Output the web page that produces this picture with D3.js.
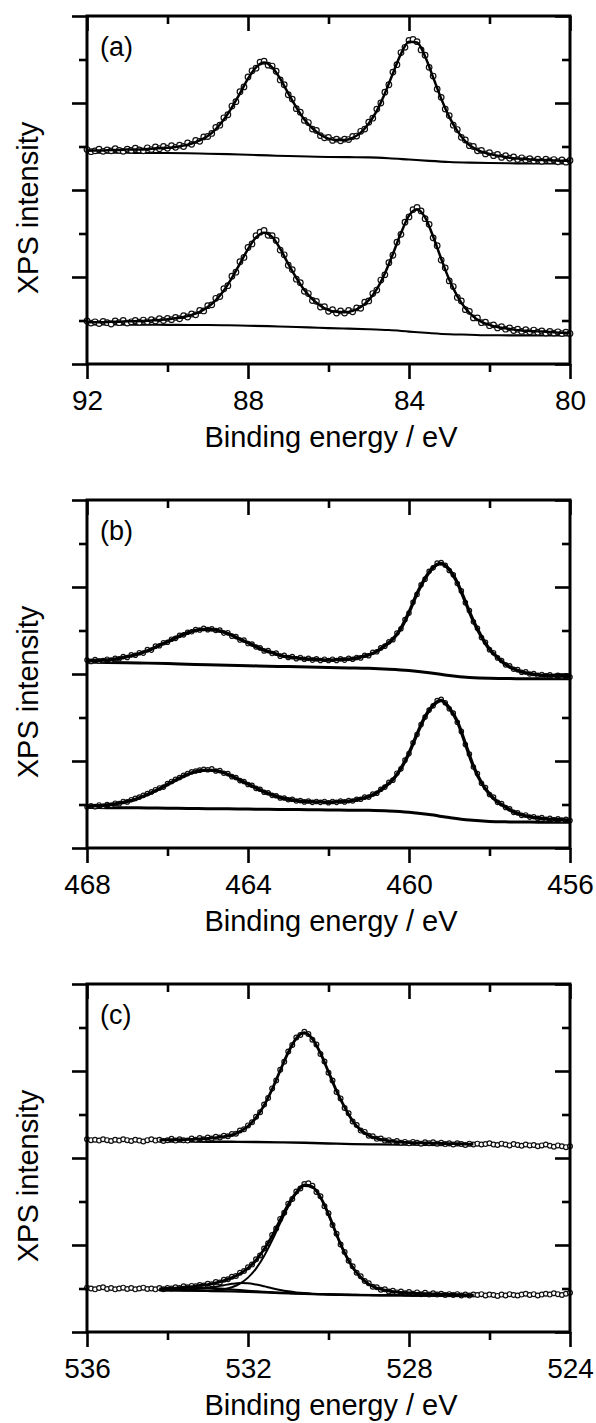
<!DOCTYPE html>
<html><head><meta charset="utf-8">
<script src="https://cdn.jsdelivr.net/npm/d3@7"></script>
<style>
body{margin:0;background:#fff}
svg text{font-family:"Liberation Sans",Arial,Helvetica,sans-serif;fill:#000}
</style>
</head><body>
<svg id="chart" width="596" height="1423"></svg>
<script>
// ---------------- Panel (a): 92 -> 80 eV ----------------
const aTicks = [92, 90, 88, 86, 84, 82, 80];
const aTickLabels = [92, 88, 84, 80];
const aDataStart = 92, aFitStart = 92, aBgStart = 92;
const aUpperData = [4.93,4.88,4.90,4.94,4.89,4.92,4.90,4.95,4.91,4.89,
4.94,4.91,4.96,4.92,4.90,4.97,4.93,4.99,4.95,5.00,
4.96,5.02,4.98,5.03,5.00,5.08,5.05,5.14,5.12,5.22,
5.23,5.30,5.44,5.49,5.66,5.73,5.93,6.03,6.26,6.37,
6.60,6.74,6.80,6.94,6.96,6.87,6.85,6.73,6.53,6.42,
6.19,6.09,5.87,5.79,5.60,5.55,5.40,5.37,5.25,5.20,
5.21,5.14,5.17,5.13,5.17,5.16,5.23,5.24,5.35,5.40,
5.56,5.65,5.86,6.00,6.25,6.42,6.71,6.88,7.16,7.28,
7.44,7.46,7.41,7.22,7.10,6.82,6.62,6.32,6.13,5.86,
5.71,5.49,5.39,5.21,5.15,5.02,5.00,4.90,4.91,4.83,
4.86,4.79,4.82,4.75,4.79,4.73,4.76,4.70,4.74,4.69,
4.72,4.67,4.71,4.66,4.71,4.67,4.70,4.65,4.69,4.64,
4.68];
const aUpperFit = [4.90,4.91,4.91,4.92,4.92,4.93,4.93,4.93,4.95,4.96,
4.97,4.99,5.02,5.07,5.14,5.24,5.40,5.62,5.90,6.22,
6.56,6.82,6.93,6.82,6.56,6.22,5.90,5.62,5.42,5.27,
5.18,5.15,5.15,5.20,5.32,5.53,5.82,6.22,6.68,7.13,
7.41,7.39,7.07,6.59,6.10,5.68,5.36,5.12,4.97,4.88,
4.83,4.79,4.76,4.73,4.72,4.70,4.69,4.69,4.68,4.67,
4.67];
const aUpperBg = [4.86,4.86,4.855,4.85,4.85,4.845,4.835,4.825,4.81,4.795,4.78,4.77,4.76,4.755,4.75,4.73,4.70,4.67,4.645,4.63,4.62,4.615,4.61,4.61,4.61];
const aLowerData = [0.99,0.94,0.97,0.93,0.98,0.95,0.92,0.99,0.95,1.00,
0.94,0.97,1.00,0.96,1.01,0.97,1.02,0.99,1.04,1.00,
1.05,1.02,1.07,1.04,1.11,1.08,1.15,1.13,1.23,1.22,
1.34,1.36,1.51,1.55,1.73,1.80,2.02,2.11,2.35,2.45,
2.68,2.76,2.95,3.03,3.07,2.96,2.95,2.84,2.62,2.51,
2.27,2.17,1.95,1.87,1.67,1.62,1.46,1.44,1.31,1.32,
1.21,1.25,1.17,1.22,1.17,1.23,1.20,1.29,1.28,1.42,
1.45,1.62,1.70,1.93,2.05,2.33,2.50,2.80,2.98,3.26,
3.38,3.55,3.60,3.52,3.34,3.21,2.90,2.72,2.39,2.21,
1.91,1.78,1.53,1.45,1.25,1.21,1.06,1.06,0.95,0.96,
0.88,0.90,0.83,0.86,0.80,0.83,0.77,0.80,0.75,0.79,
0.74,0.78,0.73,0.76,0.71,0.75,0.71,0.74,0.70,0.73,
0.70];
const aLowerFit = [0.96,0.96,0.96,0.97,0.97,0.98,0.98,0.99,1.00,1.01,
1.03,1.05,1.08,1.13,1.20,1.31,1.47,1.69,1.98,2.31,
2.64,2.91,3.02,2.92,2.65,2.30,1.98,1.70,1.49,1.34,
1.24,1.20,1.19,1.22,1.31,1.47,1.72,2.08,2.53,3.01,
3.41,3.56,3.37,2.93,2.42,1.94,1.56,1.28,1.09,0.97,
0.90,0.85,0.82,0.79,0.77,0.76,0.75,0.74,0.73,0.72,
0.72];
const aLowerBg = [0.91,0.909,0.905,0.903,0.90,0.898,0.895,0.89,0.88,0.87,0.855,0.843,0.825,0.813,0.80,0.78,0.745,0.712,0.685,0.673,0.66,0.659,0.657,0.656,0.655];

// ---------------- Panel (b): 468 -> 456 eV ----------------
const bTicks = [468, 466, 464, 462, 460, 458, 456];
const bTickLabels = [468, 464, 460, 456];
const bDataStart = 468, bFitStart = 468, bBgStart = 468;
const bUpperData = [4.32,4.29,4.33,4.30,4.31,4.34,4.32,4.36,4.35,4.40,
4.38,4.44,4.43,4.49,4.48,4.56,4.55,4.64,4.65,4.72,
4.73,4.80,4.82,4.89,4.90,4.96,4.97,5.02,5.01,5.05,
5.02,5.04,5.00,5.01,4.94,4.95,4.87,4.86,4.78,4.78,
4.70,4.69,4.62,4.60,4.53,4.54,4.47,4.48,4.41,4.43,
4.38,4.40,4.35,4.38,4.34,4.36,4.32,4.35,4.31,4.34,
4.31,4.34,4.31,4.35,4.32,4.36,4.34,4.38,4.37,4.43,
4.42,4.50,4.51,4.60,4.64,4.74,4.79,4.94,5.04,5.25,
5.40,5.65,5.83,6.05,6.18,6.36,6.44,6.55,6.56,6.50,
6.38,6.28,6.08,5.91,5.64,5.46,5.20,5.05,4.84,4.73,
4.56,4.49,4.37,4.31,4.21,4.19,4.11,4.10,4.04,4.05,
4.00,4.01,3.97,3.99,3.96,3.98,3.95,3.97,3.94,3.96,
3.93];
const bUpperFit = [4.30,4.31,4.32,4.33,4.36,4.40,4.44,4.50,4.57,4.66,
4.74,4.83,4.91,4.98,5.02,5.03,5.01,4.96,4.89,4.80,
4.72,4.63,4.55,4.49,4.43,4.39,4.37,4.35,4.34,4.33,
4.32,4.33,4.34,4.35,4.39,4.44,4.52,4.65,4.80,5.05,
5.42,5.85,6.20,6.45,6.54,6.40,6.10,5.66,5.22,4.86,
4.57,4.38,4.22,4.12,4.05,4.01,3.98,3.97,3.96,3.95,
3.94];
const bUpperBg = [4.27,4.265,4.26,4.25,4.24,4.225,4.21,4.20,4.19,4.18,4.17,4.16,4.15,4.14,4.13,4.11,4.08,4.03,3.965,3.92,3.90,3.895,3.89,3.89,3.89];
const bLowerData = [0.94,0.97,0.95,0.99,0.96,1.00,0.98,1.03,1.02,1.07,
1.06,1.11,1.14,1.17,1.21,1.25,1.29,1.34,1.38,1.40,
1.48,1.53,1.58,1.62,1.67,1.71,1.75,1.77,1.79,1.81,
1.80,1.82,1.77,1.78,1.72,1.71,1.64,1.62,1.55,1.53,
1.46,1.44,1.37,1.35,1.28,1.27,1.21,1.20,1.15,1.15,
1.11,1.12,1.08,1.09,1.06,1.08,1.05,1.07,1.05,1.07,
1.04,1.07,1.05,1.08,1.06,1.09,1.08,1.12,1.12,1.17,
1.17,1.24,1.26,1.35,1.40,1.51,1.56,1.72,1.82,2.02,
2.17,2.42,2.61,2.84,3.01,3.17,3.27,3.39,3.42,3.34,
3.20,3.10,2.89,2.68,2.38,2.16,1.86,1.71,1.49,1.39,
1.23,1.17,1.05,1.02,0.93,0.90,0.82,0.81,0.75,0.76,
0.71,0.72,0.68,0.70,0.66,0.68,0.65,0.67,0.64,0.66,
0.63];
const bLowerFit = [0.96,0.97,0.98,1.00,1.03,1.07,1.12,1.19,1.27,1.36,
1.46,1.56,1.65,1.73,1.78,1.79,1.78,1.73,1.65,1.56,
1.47,1.38,1.29,1.22,1.16,1.12,1.09,1.07,1.06,1.06,
1.05,1.06,1.07,1.09,1.13,1.18,1.27,1.41,1.57,1.83,
2.18,2.62,3.02,3.28,3.39,3.22,2.91,2.40,1.88,1.50,
1.24,1.06,0.94,0.83,0.76,0.72,0.69,0.67,0.66,0.65,
0.64];
const bLowerBg = [0.93,0.928,0.925,0.92,0.915,0.91,0.905,0.90,0.895,0.89,0.885,0.88,0.875,0.87,0.865,0.85,0.82,0.768,0.70,0.643,0.61,0.60,0.595,0.592,0.59];

// ---------------- Panel (c): 536 -> 524 eV ----------------
const cTicks = [536, 534, 532, 530, 528, 526, 524];
const cTickLabels = [536, 532, 528, 524];
const cDataStart = 536, cFitStart = 534.2, cBgStart = 534.2;
const cUpperData = [4.43,4.41,4.42,4.40,4.43,4.41,4.39,4.42,4.40,4.43,
4.41,4.39,4.42,4.40,4.38,4.41,4.43,4.40,4.42,4.39,
4.41,4.44,4.40,4.43,4.41,4.40,4.45,4.42,4.46,4.43,
4.47,4.45,4.49,4.47,4.51,4.50,4.55,4.56,4.63,4.66,
4.75,4.82,4.95,5.05,5.23,5.38,5.60,5.78,6.03,6.21,
6.45,6.60,6.77,6.83,6.90,6.85,6.72,6.61,6.39,6.22,
5.96,5.78,5.52,5.37,5.15,5.03,4.84,4.76,4.63,4.60,
4.51,4.50,4.44,4.45,4.40,4.41,4.37,4.39,4.35,4.37,
4.34,4.37,4.35,4.33,4.36,4.34,4.36,4.33,4.35,4.32,
4.34,4.31,4.34,4.32,4.30,4.33,4.31,4.33,4.31,4.32,
4.34,4.31,4.30,4.33,4.31,4.29,4.32,4.30,4.28,4.31,
4.29,4.30,4.27,4.29,4.31,4.28,4.26,4.29,4.27,4.25,
4.27];
const cUpperFit = [4.41,4.42,4.42,4.42,4.43,4.44,4.45,4.47,4.49,4.53,
4.61,4.73,4.93,5.21,5.58,6.01,6.43,6.75,6.88,6.74,
6.41,5.98,5.54,5.17,4.85,4.64,4.52,4.45,4.41,4.38,
4.365,4.355,4.35,4.345,4.34,4.335,4.33,4.33,4.32,4.32];
const cUpperBg = [4.38,4.377,4.375,4.372,4.368,4.36,4.35,4.335,4.32,4.313,4.308,4.305,4.299,4.29];
const cLowerData = [1.02,1.00,0.98,1.01,1.03,0.99,1.01,0.98,1.00,1.02,
0.99,1.01,0.98,1.00,1.02,0.99,1.00,0.98,1.01,0.98,
1.01,1.00,1.03,1.01,1.05,1.03,1.06,1.05,1.08,1.07,
1.11,1.10,1.15,1.14,1.20,1.21,1.27,1.29,1.36,1.40,
1.49,1.55,1.67,1.76,1.92,2.04,2.23,2.38,2.60,2.74,
2.95,3.06,3.23,3.30,3.40,3.42,3.36,3.22,3.12,2.89,
2.73,2.46,2.26,2.01,1.84,1.64,1.51,1.36,1.28,1.17,
1.12,1.04,1.03,0.97,0.98,0.93,0.95,0.91,0.93,0.89,
0.92,0.88,0.91,0.87,0.90,0.86,0.89,0.86,0.88,0.85,
0.87,0.85,0.87,0.84,0.86,0.84,0.86,0.85,0.87,0.84,
0.86,0.85,0.83,0.86,0.84,0.87,0.85,0.84,0.86,0.88,
0.85,0.87,0.84,0.86,0.88,0.86,0.89,0.87,0.85,0.88,
0.90];
const cLowerFit = [0.99,1.00,1.01,1.03,1.04,1.07,1.09,1.13,1.18,1.25,
1.34,1.47,1.65,1.90,2.21,2.58,2.93,3.21,3.38,3.34,
3.10,2.71,2.24,1.82,1.49,1.26,1.10,1.01,0.96,0.93,
0.91,0.90,0.89,0.88,0.875,0.87,0.865,0.86,0.855,0.85];
const cLowerMain = [0.962,0.96,0.958,0.956,0.953,0.951,0.954,0.963,0.984,1.029,
1.112,1.25,1.458,1.747,2.105,2.503,2.881,3.184,3.355,3.326,
3.09,2.70,2.235,1.816,1.486,1.257,1.097,1.008,0.958,0.928,
0.908,0.898,0.888,0.878,0.873,0.868,0.863,0.858,0.853,0.848];
const cLowerComp2 = [0.966,0.966,0.967,0.971,0.978,0.992,1.013,1.042,1.076,1.107,
1.126,1.121,1.091,1.05,1.005,0.966,0.935,0.911,0.894,0.882,
0.874,0.867,0.862,0.858,0.855,0.852,0.85,0.848,0.846,0.844,
0.843,0.842,0.841,0.84,0.839,0.838,0.837,0.836,0.834,0.832];
const cLowerComp3 = [0.986,0.993,1.001,1.01,1.015,1.018,1.015,1.006,0.994,0.979,
0.964,0.95,0.936,0.925,0.914,0.904,0.895,0.887,0.88,0.873,
0.868,0.863,0.858,0.855,0.852,0.85,0.848,0.846,0.844,0.843,
0.842,0.841,0.840,0.839,0.838,0.837,0.836,0.835,0.833,0.831];
const cLowerBg = [0.96,0.954,0.945,0.934,0.918,0.898,0.877,0.861,0.851,0.845,0.841,0.838,0.835,0.83];

const yTicks = [0, 1, 2, 3, 4, 5, 6, 7, 8];
const xTitle = "Binding energy / eV";
const yTitle = "XPS intensity";

// ---------------- layout / drawing ----------------
const svg = d3.select("#chart");
const X0 = 87, X1 = 570, PH = 348;
const FONT = '"Liberation Sans",Arial,Helvetica,sans-serif';

function pts(start, step, vals) {
  return vals.map((v, i) => ({ e: start - i * step, v }));
}

const panels = [
  { top: 16, label: "(a)", ticks: aTicks, labels: aTickLabels, r: 2.8, fitW: 2.5, bgW: 2.1,
    scatter: [pts(aDataStart, 0.1, aUpperData), pts(aDataStart, 0.1, aLowerData)],
    bgs: [pts(aBgStart, 0.5, aUpperBg), pts(aBgStart, 0.5, aLowerBg)],
    comps: [],
    fits: [pts(aFitStart, 0.2, aUpperFit), pts(aFitStart, 0.2, aLowerFit)] },
  { top: 500, label: "(b)", ticks: bTicks, labels: bTickLabels, r: 2.2, fitW: 3.4, bgW: 3.0,
    scatter: [pts(bDataStart, 0.1, bUpperData), pts(bDataStart, 0.1, bLowerData)],
    bgs: [pts(bBgStart, 0.5, bUpperBg), pts(bBgStart, 0.5, bLowerBg)],
    comps: [],
    fits: [pts(bFitStart, 0.2, bUpperFit), pts(bFitStart, 0.2, bLowerFit)] },
  { top: 984, label: "(c)", ticks: cTicks, labels: cTickLabels, r: 2.4, fitW: 2.8, bgW: 2.4,
    scatter: [pts(cDataStart, 0.1, cUpperData), pts(cDataStart, 0.1, cLowerData)],
    bgs: [pts(cBgStart, 0.6, cUpperBg), pts(cBgStart, 0.6, cLowerBg)],
    comps: [pts(cFitStart, 0.2, cLowerComp2), pts(cFitStart, 0.2, cLowerComp3), pts(cFitStart, 0.2, cLowerMain)],
    fits: [pts(cFitStart, 0.2, cUpperFit), pts(cFitStart, 0.2, cLowerFit)] }
];

panels.forEach(p => {
  const g = svg.append("g").attr("transform", `translate(0,${p.top})`);
  const x = d3.scaleLinear().domain([p.ticks[0], p.ticks[p.ticks.length - 1]]).range([X0, X1]);
  const y = d3.scaleLinear().domain([0, 8]).range([PH, 0]);
  const line = d3.line().x(d => x(d.e)).y(d => y(d.v)).curve(d3.curveMonotoneX);

  p.bgs.forEach(s => g.append("path").attr("d", line(s)).attr("fill", "none")
    .attr("stroke", "#000").attr("stroke-width", p.bgW));

  p.scatter.forEach(s => g.append("g").selectAll("circle").data(s).join("circle")
    .attr("cx", d => x(d.e)).attr("cy", d => y(d.v)).attr("r", p.r)
    .attr("fill", "#fff").attr("stroke", "#111").attr("stroke-width", 1.2));

  p.comps.forEach(s => g.append("path").attr("d", line(s)).attr("fill", "none")
    .attr("stroke", "#000").attr("stroke-width", 2));

  p.fits.forEach(s => g.append("path").attr("d", line(s)).attr("fill", "none")
    .attr("stroke", "#000").attr("stroke-width", p.fitW).attr("stroke-linejoin", "round"));

  // axes
  const major = p.labels, minor = p.ticks.filter(t => !major.includes(t));
  const yMajor = yTicks.filter(t => t % 2 === 0), yMinor = yTicks.filter(t => t % 2 === 1);
  const style = sel => {
    sel.select(".domain").remove();
    sel.selectAll("line").attr("stroke", "#000").attr("stroke-width", 2.6);
    sel.selectAll("text").attr("font-family", FONT).attr("font-size", 28).attr("fill", "#000");
  };
  g.append("g").attr("transform", `translate(0,${PH})`)
    .call(d3.axisBottom(x).tickValues(major).tickSize(15).tickPadding(11).tickFormat(d3.format("d"))).call(style);
  g.append("g").attr("transform", `translate(0,${PH})`)
    .call(d3.axisBottom(x).tickValues(minor).tickSize(8).tickFormat("")).call(style);
  g.append("g").call(d3.axisTop(x).tickValues(major).tickSize(-15).tickFormat("")).call(style);
  g.append("g").call(d3.axisTop(x).tickValues(minor).tickSize(-8).tickFormat("")).call(style);
  g.append("g").attr("transform", `translate(${X0},0)`)
    .call(d3.axisLeft(y).tickValues(yMajor).tickSize(15).tickFormat("")).call(style);
  g.append("g").attr("transform", `translate(${X0},0)`)
    .call(d3.axisLeft(y).tickValues(yMinor).tickSize(8).tickFormat("")).call(style);
  g.append("g").attr("transform", `translate(${X1},0)`)
    .call(d3.axisRight(y).tickValues(yMajor).tickSize(-15).tickFormat("")).call(style);
  g.append("g").attr("transform", `translate(${X1},0)`)
    .call(d3.axisRight(y).tickValues(yMinor).tickSize(-8).tickFormat("")).call(style);

  g.append("rect").attr("x", X0).attr("y", 0).attr("width", X1 - X0).attr("height", PH)
    .attr("fill", "none").attr("stroke", "#000").attr("stroke-width", 3);

  g.append("text").attr("x", 100).attr("y", 40).attr("font-size", 27).text(p.label);
  g.append("text").attr("x", 331).attr("y", PH + 83).attr("text-anchor", "middle")
    .attr("font-size", 29).text(xTitle);
  g.append("text").attr("transform", `translate(38,${PH / 2 + 18}) rotate(-90)`)
    .attr("text-anchor", "middle").attr("font-size", 29).text(yTitle);
});
</script>
</body></html>
